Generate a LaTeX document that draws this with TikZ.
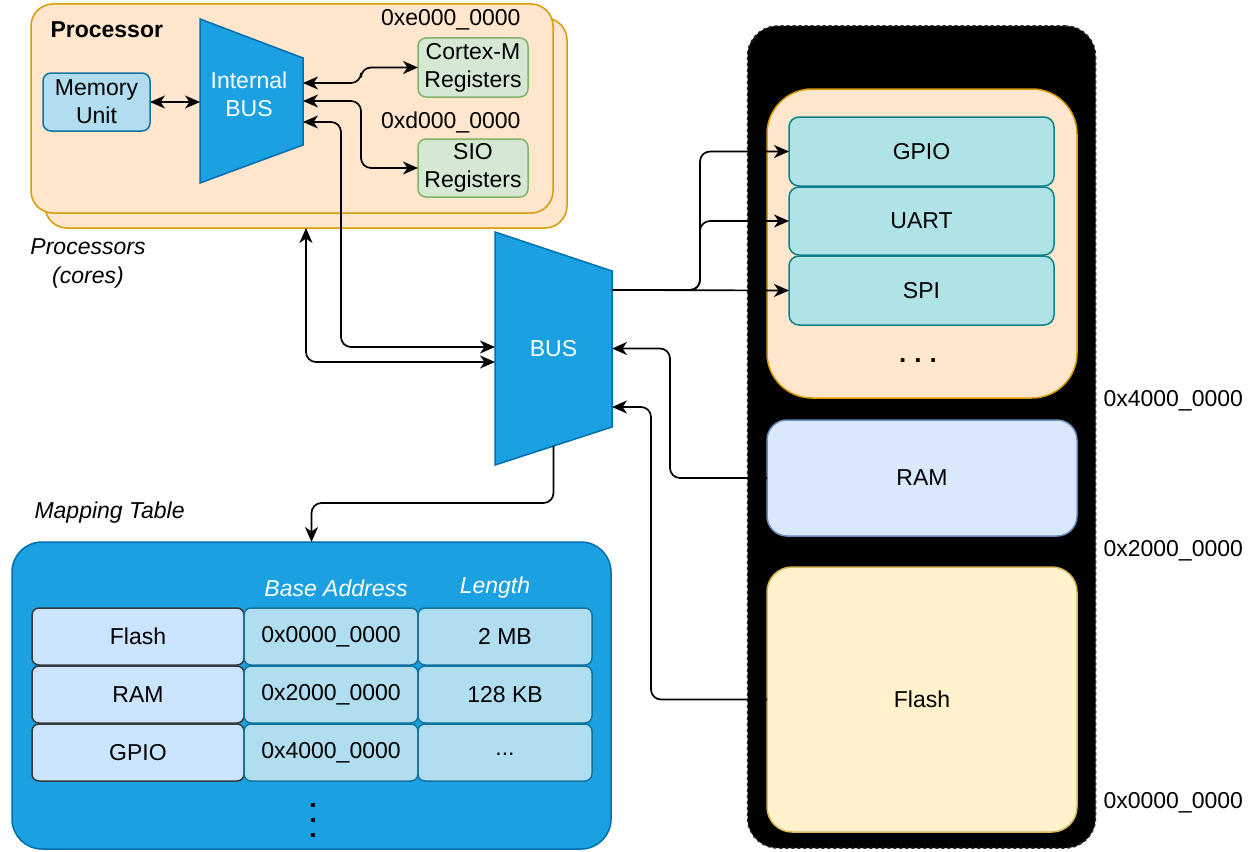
\documentclass[tikz,border=0pt]{standalone}
\usepackage{fontspec}
\setmainfont{Liberation Sans}
\usetikzlibrary{arrows.meta,calc}
\definecolor{procfill}{HTML}{FFE6CC}
\definecolor{procline}{HTML}{D79B00}
\definecolor{mufill}{HTML}{B1DDF0}
\definecolor{muline}{HTML}{10739E}
\definecolor{regfill}{HTML}{D5E8D4}
\definecolor{regline}{HTML}{82B366}
\definecolor{busfill}{HTML}{1BA1E2}
\definecolor{busline}{HTML}{006EAF}
\definecolor{perfill}{HTML}{B0E3E6}
\definecolor{perline}{HTML}{0E8088}
\definecolor{ramfill}{HTML}{DAE8FC}
\definecolor{ramline}{HTML}{6C8EBF}
\definecolor{flashfill}{HTML}{FFF2CC}
\definecolor{flashline}{HTML}{D6B656}
\definecolor{cellfill}{HTML}{CCE5FF}
\definecolor{cellline}{HTML}{36393D}
\tikzset{
  box/.style={draw, line width=1.5pt, inner sep=0pt, outer sep=0pt, align=center},
  procbox/.style={box, fill=procfill, draw=procline, rounded corners=22pt},
  mubox/.style={box, fill=mufill, draw=muline, rounded corners=8pt},
  regbox/.style={box, fill=regfill, draw=regline, rounded corners=8pt},
  perbox/.style={box, fill=perfill, draw=perline, rounded corners=10pt},
  cellA/.style={box, fill=cellfill, draw=cellline, rounded corners=7pt, minimum width=212pt, minimum height=57pt},
  cellB/.style={box, fill=mufill, draw=muline, rounded corners=7pt, minimum width=174pt, minimum height=57pt},
  ghost/.style={inner sep=0pt, outer sep=0pt},
  trap/.style={fill=busfill, draw=busline, line width=1.5pt},
  conn/.style={line width=1.7pt, rounded corners=10pt},
  tip/.style={-{Stealth[length=15pt,width=13pt,inset=4.5pt]}},
  both/.style={{Stealth[length=15pt,width=13pt,inset=4.5pt]}-{Stealth[length=15pt,width=13pt,inset=4.5pt]}},
}
\begin{document}
\begin{tikzpicture}[x=1pt,y=-1pt,font=\fontsize{23}{28}\selectfont]
\useasboundingbox (0,0) rectangle (1252,851);

% Processor boxes
\node[procbox, minimum width=522pt, minimum height=210pt] (procback) at (306,123) {};
\node[procbox, minimum width=522pt, minimum height=209pt] (proc) at (292,108.5) {};
\node[anchor=west, font=\fontsize{23}{28}\selectfont\bfseries] (proclabel) at (47,30) {Processor};
\node[mubox, minimum width=107pt, minimum height=58pt] (mu) at (96.5,102) {Memory\\Unit};
\draw[trap] (200,19) -- (303,58) -- (303,145) -- (200,183) -- cycle;
\node[ghost, minimum width=103pt, minimum height=164pt] (ibus) at (251.5,101) {};
\node[text=white, align=center] (ibustext) at (249,94) {Internal\\BUS};
\node[regbox, minimum width=110pt, minimum height=59pt] (cortex) at (473,67.5) {Cortex-M\\Registers};
\node[regbox, minimum width=110pt, minimum height=58pt] (sio) at (473,168) {SIO\\Registers};
\node[anchor=east] (addre) at (524,20) {0xe000\_0000};
\node[anchor=east] (addrd) at (524,122) {0xd000\_0000};
\node[font=\fontsize{23}{29}\selectfont\itshape, align=center] (cores) at (88,263) {Processors\\(cores)};

% Big BUS
\draw[trap] (495,232) -- (612,271) -- (612,427) -- (495,465) -- cycle;
\node[ghost, minimum width=117pt, minimum height=233pt, text=white] (bus) at (553.5,348.5) {BUS};

% Memory map
\node[box, fill=black, draw=black!85, dashed, rounded corners=30pt, minimum width=348pt, minimum height=822pt] (mmap) at (921.5,437) {};
\node[procbox, rounded corners=45pt, minimum width=310pt, minimum height=309pt] (periph) at (922,243.5) {};
\node[perbox, minimum width=265pt, minimum height=69pt] (gpio) at (921.5,151.5) {GPIO};
\node[perbox, minimum width=265pt, minimum height=68pt] (uart) at (921.5,221) {UART};
\node[perbox, minimum width=265pt, minimum height=69pt] (spi) at (921.5,290.5) {SPI};
\node[font=\fontsize{26}{30}\selectfont\bfseries] (pdots) at (918,361) {.\hspace{8pt}.\hspace{8pt}.};
\node[box, fill=ramfill, draw=ramline, rounded corners=20pt, minimum width=310pt, minimum height=116pt] (ram) at (922,478) {RAM};
\node[box, fill=flashfill, draw=flashline, rounded corners=25pt, minimum width=310pt, minimum height=265pt] (flash) at (922,699.5) {Flash};
\node[anchor=west] (a4) at (1100,401) {0x4000\_0000};
\node[anchor=west] (a2) at (1100,551) {0x2000\_0000};
\node[anchor=west] (a0) at (1100,803) {0x0000\_0000};

% Mapping table
\node[font=\fontsize{23}{28}\selectfont\itshape, anchor=west] (maplabel) at (31,513) {Mapping Table};
\node[box, fill=busfill, draw=busline, rounded corners=30pt, minimum width=599pt, minimum height=307pt] (map) at (311.5,695.5) {};
\node[text=white, font=\fontsize{23}{28}\selectfont\itshape] (hbase) at (336,588) {Base Address};
\node[text=white, font=\fontsize{23}{28}\selectfont\itshape] (hlen) at (495,588) {Length};
\node[cellA] (c11) at (138,636.5) {Flash};
\node[cellB] (c12) at (331,636.5) {0x0000\_0000};
\node[cellB] (c13) at (505,636.5) {2 MB};
\node[cellA] (c21) at (138,694.5) {RAM};
\node[cellB] (c22) at (331,694.5) {0x2000\_0000};
\node[cellB] (c23) at (505,694.5) {128 KB};
\node[cellA] (c31) at (138,752.5) {GPIO};
\node[cellB] (c32) at (331,752.5) {0x4000\_0000};
\node[cellB] (c33) at (505,752.5) {\raisebox{-5pt}{...}};
\foreach \yy in {803,818,833} \fill (311,\yy) rectangle (315,\yy+4);

% Connectors
\draw[conn, both] (mu.east) -- (mu.east -| ibus.west);
\draw[conn, both] ([yshift=18pt]ibus.east) -- (361,83) -- (361,67.5) -- (cortex.west);
\draw[conn, both] (ibus.east) -- (361,101) -- (361,168) -- (sio.west);
\draw[conn, both] ([yshift=-21pt]ibus.east) -- (341,122) -- (341,347) -- ([yshift=1.5pt]bus.west);
\draw[conn, both] (procback.south) -- (306,362) -- ([yshift=-13.5pt]bus.west);
\draw[conn, tip] ([yshift=58.5pt]bus.east) -- (700,290) -- (700,151.5) -- (gpio.west);
\draw[conn, tip] ([yshift=58.5pt]bus.east) -- (700,290) -- (700,221) -- (uart.west);
\draw[conn, tip] ([yshift=58.5pt]bus.east) -- (spi.west);
\draw[conn, tip] (ram.west) -- (670,478) -- (670,348.5) -- (bus.east);
\draw[conn, tip] (flash.west) -- (651,699.5) -- (651,407) -- ([yshift=-58.5pt]bus.east);
\draw[conn, tip] ([yshift=19pt]bus.south) -- (553.5,503) -- (311.5,503) -- (map.north);
\end{tikzpicture}
\end{document}
